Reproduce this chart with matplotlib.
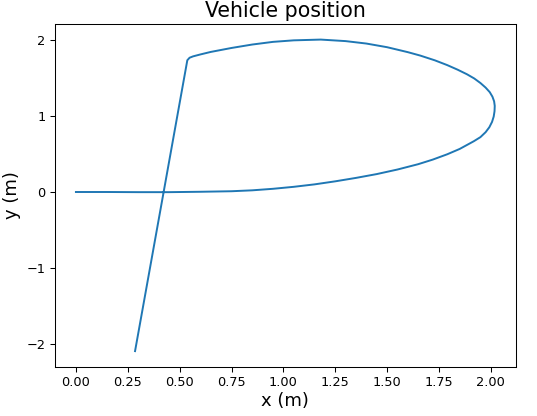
import matplotlib
matplotlib.use("Agg")
import matplotlib.pyplot as plt
from matplotlib.ticker import MultipleLocator

# vehicle trajectory
pos_x = [0.0, 0.15, 0.3, 0.45, 0.6, 0.75, 0.85, 0.95, 1.05, 1.15, 1.25,
         1.35, 1.45, 1.55, 1.65, 1.72, 1.79, 1.85, 1.918, 1.95, 1.975,
         1.993, 2.006, 2.014, 2.018, 2.019, 2.016, 2.008, 1.995, 1.975,
         1.95, 1.92, 1.885, 1.84, 1.79, 1.73, 1.66, 1.6, 1.5, 1.4, 1.3,
         1.18, 1.05, 0.95, 0.85, 0.75, 0.65, 0.6, 0.565, 0.548, 0.537,
         0.285]
pos_y = [0.0, 0.0, -0.002, -0.002, 0.003, 0.01, 0.022, 0.042, 0.068, 0.1,
         0.14, 0.185, 0.235, 0.295, 0.365, 0.425, 0.495, 0.565, 0.666, 0.72,
         0.785, 0.85, 0.92, 0.99, 1.06, 1.13, 1.19, 1.25, 1.31, 1.37, 1.43,
         1.49, 1.545, 1.605, 1.665, 1.728, 1.79, 1.835, 1.9, 1.948, 1.98,
         2.0, 1.99, 1.97, 1.935, 1.89, 1.838, 1.805, 1.78, 1.762, 1.729,
         -2.088]

title = "Vehicle position"
x_label = "x (m)"
y_label = "y (m)"

fig = plt.figure(figsize=(5.37, 4.16), dpi=100)
ax = fig.add_axes([0.1024, 0.1185, 0.8579, 0.8238])
ax.plot(pos_x, pos_y, color="#1f77b4", linewidth=1.4)

ax.yaxis.set_major_locator(MultipleLocator(1))
ax.set_title(title, fontsize=14.8, pad=5)
ax.set_xlabel(x_label, fontsize=13, labelpad=2)
ax.set_ylabel(y_label, fontsize=13, labelpad=4)
ax.tick_params(labelsize=9.3, width=0.75, length=3.3)
for sp in ax.spines.values():
    sp.set_linewidth(0.75)

fig.savefig("out.png", dpi=100)
